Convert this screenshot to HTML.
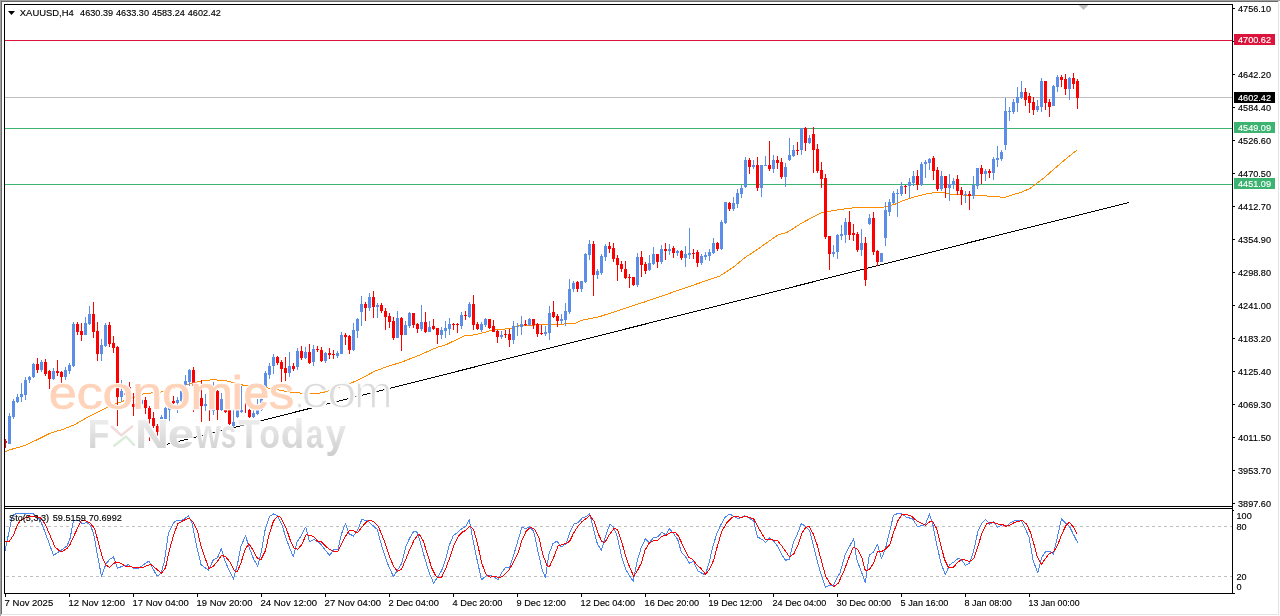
<!DOCTYPE html><html><head><meta charset="utf-8"><title>XAUUSD,H4</title><style>
html,body{margin:0;padding:0;background:#fff;}
body{width:1280px;height:616px;overflow:hidden;position:relative;font-family:"Liberation Sans",sans-serif;}
svg{position:absolute;left:0;top:0;}
text{font-family:"Liberation Sans",sans-serif;font-size:9.9px;fill:#000;}
.t{stroke:#000;stroke-width:.15px}.tw{fill:#fff;stroke:#fff;stroke-width:.15px}
.wm1,.wm2,.wm3{position:absolute;white-space:nowrap;font-family:"Liberation Sans",sans-serif;line-height:1;}
</style></head><body>
<svg width="1280" height="616" viewBox="0 0 1280 616">
<g shape-rendering="crispEdges">
<rect x="0" y="0" width="1280" height="616" fill="#fff"/>
<rect x="0" y="0" width="1280" height="1" fill="#a0a0a0"/><rect x="0" y="0" width="1" height="616" fill="#a0a0a0"/>
<rect x="1" y="1" width="1278" height="1" fill="#696969"/><rect x="1" y="1" width="1" height="614" fill="#696969"/>
<rect x="1278" y="1" width="1" height="614" fill="#e3e3e3"/><rect x="1" y="614" width="1278" height="1" fill="#e3e3e3"/>
<rect x="5" y="40" width="1227" height="1" fill="#dc143c"/>
<rect x="5" y="97" width="1227" height="1" fill="#c0c0c0"/>
<rect x="5" y="128" width="1227" height="1" fill="#3cb371"/>
<rect x="5" y="184" width="1227" height="1" fill="#3cb371"/>
</g>
<line x1="158" y1="446.6" x2="1129" y2="202.4" stroke="#000" stroke-width="1" shape-rendering="crispEdges"/>
<polyline points="5.0,451.7 10.0,449.7 25.0,445.5 37.5,439.5 50.0,433.2 62.5,429.5 75.0,424.5 87.5,417.2 100.0,411.0 107.5,407.2 117.5,403.1 125.0,400.5 142.5,394.1 153.0,392.7 161.0,392.1 170.0,389.5 185.0,385.0 194.0,382.5 203.0,380.9 213.0,379.7 227.0,380.9 232.0,382.4 240.0,384.2 244.0,385.5 268.0,388.0 288.0,391.8 300.0,393.0 310.0,393.9 322.0,392.8 328.0,390.9 347.0,384.9 360.0,379.2 375.0,371.1 390.0,365.5 400.0,362.8 420.0,354.9 437.0,347.4 445.0,345.2 465.0,335.5 475.0,334.9 490.0,330.8 495.0,329.9 510.0,328.6 520.0,325.5 548.0,324.6 575.0,323.6 581.0,320.5 600.0,316.5 646.0,301.5 720.0,275.9 733.8,266.8 746.0,256.8 755.0,251.1 770.0,240.5 778.0,234.9 787.0,232.4 800.0,224.2 812.0,217.4 822.0,212.4 830.0,211.1 843.0,209.2 852.0,208.0 860.0,207.8 882.0,207.6 890.0,205.5 895.0,204.2 905.0,199.9 915.0,196.8 925.0,194.2 933.0,192.8 945.0,192.8 950.0,194.0 970.0,195.5 987.0,195.9 990.0,196.8 1000.0,197.0 1002.0,198.0 1005.0,197.5 1012.0,194.9 1020.0,192.8 1030.0,188.5 1045.0,177.0 1057.0,166.5 1067.0,158.0 1076.0,150.9 1077.0,150.9" fill="none" stroke="#ff8c00" stroke-width="1" stroke-linejoin="round" shape-rendering="crispEdges"/>
<g shape-rendering="crispEdges">
<rect x="5" y="439" width="1" height="9" fill="#ff0000"/>
<rect x="4" y="441" width="3" height="2" fill="#ff0000"/>
<rect x="9" y="413" width="1" height="31" fill="#5b8ee9"/>
<rect x="8" y="416" width="3" height="28" fill="#5b8ee9"/>
<rect x="13" y="399" width="1" height="20" fill="#5b8ee9"/>
<rect x="12" y="401" width="3" height="16" fill="#5b8ee9"/>
<rect x="17" y="394" width="1" height="9" fill="#5b8ee9"/>
<rect x="16" y="397" width="3" height="5" fill="#5b8ee9"/>
<rect x="21" y="383" width="1" height="19" fill="#5b8ee9"/>
<rect x="20" y="394" width="3" height="3" fill="#5b8ee9"/>
<rect x="25" y="377" width="1" height="23" fill="#5b8ee9"/>
<rect x="24" y="380" width="3" height="15" fill="#5b8ee9"/>
<rect x="29" y="376" width="1" height="7" fill="#5b8ee9"/>
<rect x="28" y="377" width="3" height="3" fill="#5b8ee9"/>
<rect x="33" y="363" width="1" height="15" fill="#5b8ee9"/>
<rect x="32" y="364" width="3" height="13" fill="#5b8ee9"/>
<rect x="37" y="358" width="1" height="15" fill="#ff0000"/>
<rect x="36" y="364" width="3" height="6" fill="#ff0000"/>
<rect x="41" y="360" width="1" height="12" fill="#5b8ee9"/>
<rect x="40" y="362" width="3" height="8" fill="#5b8ee9"/>
<rect x="45" y="359" width="1" height="17" fill="#ff0000"/>
<rect x="44" y="362" width="3" height="12" fill="#ff0000"/>
<rect x="49" y="370" width="1" height="19" fill="#ff0000"/>
<rect x="48" y="371" width="3" height="8" fill="#ff0000"/>
<rect x="53" y="368" width="1" height="12" fill="#5b8ee9"/>
<rect x="52" y="371" width="3" height="8" fill="#5b8ee9"/>
<rect x="57" y="360" width="1" height="16" fill="#ff0000"/>
<rect x="56" y="371" width="3" height="2" fill="#ff0000"/>
<rect x="61" y="371" width="1" height="12" fill="#ff0000"/>
<rect x="60" y="372" width="3" height="5" fill="#ff0000"/>
<rect x="65" y="367" width="1" height="13" fill="#5b8ee9"/>
<rect x="64" y="370" width="3" height="7" fill="#5b8ee9"/>
<rect x="69" y="363" width="1" height="11" fill="#5b8ee9"/>
<rect x="68" y="365" width="3" height="6" fill="#5b8ee9"/>
<rect x="73" y="322" width="1" height="45" fill="#5b8ee9"/>
<rect x="72" y="324" width="3" height="42" fill="#5b8ee9"/>
<rect x="77" y="322" width="1" height="13" fill="#ff0000"/>
<rect x="76" y="324" width="3" height="8" fill="#ff0000"/>
<rect x="81" y="323" width="1" height="18" fill="#ff0000"/>
<rect x="80" y="331" width="3" height="4" fill="#ff0000"/>
<rect x="85" y="317" width="1" height="18" fill="#5b8ee9"/>
<rect x="84" y="323" width="3" height="12" fill="#5b8ee9"/>
<rect x="89" y="306" width="1" height="19" fill="#5b8ee9"/>
<rect x="88" y="314" width="3" height="10" fill="#5b8ee9"/>
<rect x="93" y="302" width="1" height="36" fill="#ff0000"/>
<rect x="92" y="314" width="3" height="18" fill="#ff0000"/>
<rect x="97" y="322" width="1" height="39" fill="#ff0000"/>
<rect x="96" y="331" width="3" height="23" fill="#ff0000"/>
<rect x="101" y="339" width="1" height="22" fill="#5b8ee9"/>
<rect x="100" y="345" width="3" height="9" fill="#5b8ee9"/>
<rect x="105" y="323" width="1" height="24" fill="#5b8ee9"/>
<rect x="104" y="325" width="3" height="21" fill="#5b8ee9"/>
<rect x="109" y="322" width="1" height="25" fill="#ff0000"/>
<rect x="108" y="325" width="3" height="19" fill="#ff0000"/>
<rect x="113" y="336" width="1" height="17" fill="#ff0000"/>
<rect x="112" y="343" width="3" height="5" fill="#ff0000"/>
<rect x="117" y="346" width="1" height="80" fill="#ff0000"/>
<rect x="116" y="347" width="3" height="50" fill="#ff0000"/>
<rect x="121" y="380" width="1" height="22" fill="#5b8ee9"/>
<rect x="120" y="391" width="3" height="6" fill="#5b8ee9"/>
<rect x="125" y="392" width="1" height="4" fill="#ff0000"/>
<rect x="124" y="393" width="3" height="2" fill="#ff0000"/>
<rect x="129" y="382" width="1" height="18" fill="#ff0000"/>
<rect x="128" y="387" width="3" height="8" fill="#ff0000"/>
<rect x="133" y="393" width="1" height="23" fill="#ff0000"/>
<rect x="132" y="404" width="3" height="3" fill="#ff0000"/>
<rect x="137" y="392" width="1" height="14" fill="#5b8ee9"/>
<rect x="136" y="394" width="3" height="8" fill="#5b8ee9"/>
<rect x="141" y="393" width="1" height="17" fill="#5b8ee9"/>
<rect x="140" y="400" width="3" height="4" fill="#5b8ee9"/>
<rect x="145" y="397" width="1" height="17" fill="#ff0000"/>
<rect x="144" y="400" width="3" height="8" fill="#ff0000"/>
<rect x="149" y="406" width="1" height="35" fill="#ff0000"/>
<rect x="148" y="408" width="3" height="11" fill="#ff0000"/>
<rect x="153" y="412" width="1" height="16" fill="#ff0000"/>
<rect x="152" y="418" width="3" height="8" fill="#ff0000"/>
<rect x="157" y="424" width="1" height="12" fill="#ff0000"/>
<rect x="156" y="426" width="3" height="6" fill="#ff0000"/>
<rect x="161" y="415" width="1" height="22" fill="#5b8ee9"/>
<rect x="160" y="417" width="3" height="2" fill="#5b8ee9"/>
<rect x="165" y="407" width="1" height="13" fill="#5b8ee9"/>
<rect x="164" y="408" width="3" height="11" fill="#5b8ee9"/>
<rect x="169" y="400" width="1" height="21" fill="#5b8ee9"/>
<rect x="168" y="403" width="3" height="7" fill="#5b8ee9"/>
<rect x="173" y="396" width="1" height="8" fill="#ff0000"/>
<rect x="172" y="401" width="3" height="2" fill="#ff0000"/>
<rect x="177" y="397" width="1" height="16" fill="#5b8ee9"/>
<rect x="176" y="400" width="3" height="3" fill="#5b8ee9"/>
<rect x="181" y="390" width="1" height="12" fill="#5b8ee9"/>
<rect x="180" y="391" width="3" height="10" fill="#5b8ee9"/>
<rect x="185" y="375" width="1" height="11" fill="#5b8ee9"/>
<rect x="184" y="381" width="3" height="4" fill="#5b8ee9"/>
<rect x="189" y="369" width="1" height="17" fill="#5b8ee9"/>
<rect x="188" y="370" width="3" height="12" fill="#5b8ee9"/>
<rect x="193" y="367" width="1" height="45" fill="#ff0000"/>
<rect x="192" y="370" width="3" height="16" fill="#ff0000"/>
<rect x="197" y="384" width="1" height="16" fill="#ff0000"/>
<rect x="196" y="386" width="3" height="12" fill="#ff0000"/>
<rect x="201" y="380" width="1" height="42" fill="#ff0000"/>
<rect x="200" y="398" width="3" height="8" fill="#ff0000"/>
<rect x="205" y="394" width="1" height="17" fill="#5b8ee9"/>
<rect x="204" y="404" width="3" height="2" fill="#5b8ee9"/>
<rect x="209" y="410" width="1" height="11" fill="#ff0000"/>
<rect x="213" y="382" width="1" height="33" fill="#5b8ee9"/>
<rect x="212" y="392" width="3" height="19" fill="#5b8ee9"/>
<rect x="217" y="390" width="1" height="30" fill="#ff0000"/>
<rect x="216" y="391" width="3" height="19" fill="#ff0000"/>
<rect x="221" y="393" width="1" height="18" fill="#5b8ee9"/>
<rect x="220" y="399" width="3" height="11" fill="#5b8ee9"/>
<rect x="225" y="409" width="1" height="4" fill="#ff0000"/>
<rect x="224" y="410" width="3" height="2" fill="#ff0000"/>
<rect x="229" y="409" width="1" height="16" fill="#ff0000"/>
<rect x="228" y="410" width="3" height="14" fill="#ff0000"/>
<rect x="233" y="410" width="1" height="17" fill="#5b8ee9"/>
<rect x="232" y="422" width="3" height="4" fill="#5b8ee9"/>
<rect x="237" y="409" width="1" height="9" fill="#5b8ee9"/>
<rect x="236" y="410" width="3" height="7" fill="#5b8ee9"/>
<rect x="241" y="386" width="1" height="27" fill="#5b8ee9"/>
<rect x="240" y="410" width="3" height="2" fill="#5b8ee9"/>
<rect x="245" y="402" width="1" height="11" fill="#ff0000"/>
<rect x="249" y="400" width="1" height="18" fill="#ff0000"/>
<rect x="248" y="410" width="3" height="7" fill="#ff0000"/>
<rect x="253" y="410" width="1" height="8" fill="#5b8ee9"/>
<rect x="252" y="413" width="3" height="4" fill="#5b8ee9"/>
<rect x="257" y="399" width="1" height="16" fill="#5b8ee9"/>
<rect x="256" y="410" width="3" height="4" fill="#5b8ee9"/>
<rect x="261" y="398" width="1" height="13" fill="#5b8ee9"/>
<rect x="260" y="399" width="3" height="11" fill="#5b8ee9"/>
<rect x="265" y="371" width="1" height="17" fill="#5b8ee9"/>
<rect x="264" y="373" width="3" height="14" fill="#5b8ee9"/>
<rect x="269" y="363" width="1" height="16" fill="#5b8ee9"/>
<rect x="268" y="366" width="3" height="9" fill="#5b8ee9"/>
<rect x="273" y="354" width="1" height="20" fill="#5b8ee9"/>
<rect x="272" y="357" width="3" height="9" fill="#5b8ee9"/>
<rect x="277" y="356" width="1" height="9" fill="#ff0000"/>
<rect x="276" y="357" width="3" height="6" fill="#ff0000"/>
<rect x="281" y="360" width="1" height="22" fill="#ff0000"/>
<rect x="280" y="362" width="3" height="7" fill="#ff0000"/>
<rect x="285" y="357" width="1" height="24" fill="#ff0000"/>
<rect x="284" y="368" width="3" height="5" fill="#ff0000"/>
<rect x="289" y="352" width="1" height="25" fill="#5b8ee9"/>
<rect x="288" y="366" width="3" height="7" fill="#5b8ee9"/>
<rect x="293" y="363" width="1" height="8" fill="#ff0000"/>
<rect x="292" y="366" width="3" height="3" fill="#ff0000"/>
<rect x="297" y="348" width="1" height="22" fill="#5b8ee9"/>
<rect x="296" y="351" width="3" height="16" fill="#5b8ee9"/>
<rect x="301" y="346" width="1" height="14" fill="#ff0000"/>
<rect x="300" y="351" width="3" height="7" fill="#ff0000"/>
<rect x="305" y="347" width="1" height="12" fill="#5b8ee9"/>
<rect x="304" y="352" width="3" height="6" fill="#5b8ee9"/>
<rect x="309" y="344" width="1" height="20" fill="#ff0000"/>
<rect x="308" y="352" width="3" height="11" fill="#ff0000"/>
<rect x="313" y="345" width="1" height="21" fill="#5b8ee9"/>
<rect x="312" y="349" width="3" height="13" fill="#5b8ee9"/>
<rect x="317" y="346" width="1" height="6" fill="#ff0000"/>
<rect x="316" y="349" width="3" height="1" fill="#ff0000"/>
<rect x="321" y="347" width="1" height="15" fill="#ff0000"/>
<rect x="320" y="350" width="3" height="11" fill="#ff0000"/>
<rect x="325" y="352" width="1" height="11" fill="#5b8ee9"/>
<rect x="324" y="353" width="3" height="8" fill="#5b8ee9"/>
<rect x="329" y="348" width="1" height="11" fill="#ff0000"/>
<rect x="328" y="353" width="3" height="2" fill="#ff0000"/>
<rect x="333" y="350" width="1" height="9" fill="#ff0000"/>
<rect x="332" y="354" width="3" height="1" fill="#ff0000"/>
<rect x="337" y="351" width="1" height="7" fill="#5b8ee9"/>
<rect x="336" y="353" width="3" height="3" fill="#5b8ee9"/>
<rect x="341" y="332" width="1" height="22" fill="#5b8ee9"/>
<rect x="340" y="335" width="3" height="19" fill="#5b8ee9"/>
<rect x="345" y="333" width="1" height="12" fill="#ff0000"/>
<rect x="344" y="335" width="3" height="2" fill="#ff0000"/>
<rect x="349" y="335" width="1" height="19" fill="#ff0000"/>
<rect x="348" y="336" width="3" height="14" fill="#ff0000"/>
<rect x="353" y="323" width="1" height="28" fill="#5b8ee9"/>
<rect x="352" y="330" width="3" height="20" fill="#5b8ee9"/>
<rect x="357" y="318" width="1" height="20" fill="#5b8ee9"/>
<rect x="356" y="319" width="3" height="12" fill="#5b8ee9"/>
<rect x="361" y="296" width="1" height="30" fill="#5b8ee9"/>
<rect x="360" y="304" width="3" height="8" fill="#5b8ee9"/>
<rect x="365" y="302" width="1" height="19" fill="#ff0000"/>
<rect x="364" y="304" width="3" height="4" fill="#ff0000"/>
<rect x="369" y="293" width="1" height="18" fill="#5b8ee9"/>
<rect x="368" y="297" width="3" height="11" fill="#5b8ee9"/>
<rect x="373" y="291" width="1" height="27" fill="#ff0000"/>
<rect x="372" y="297" width="3" height="10" fill="#ff0000"/>
<rect x="377" y="303" width="1" height="15" fill="#5b8ee9"/>
<rect x="376" y="305" width="3" height="2" fill="#5b8ee9"/>
<rect x="381" y="303" width="1" height="10" fill="#ff0000"/>
<rect x="380" y="305" width="3" height="6" fill="#ff0000"/>
<rect x="385" y="308" width="1" height="22" fill="#ff0000"/>
<rect x="384" y="311" width="3" height="6" fill="#ff0000"/>
<rect x="389" y="313" width="1" height="15" fill="#ff0000"/>
<rect x="388" y="316" width="3" height="6" fill="#ff0000"/>
<rect x="393" y="317" width="1" height="23" fill="#ff0000"/>
<rect x="392" y="321" width="3" height="17" fill="#ff0000"/>
<rect x="397" y="311" width="1" height="27" fill="#5b8ee9"/>
<rect x="396" y="318" width="3" height="20" fill="#5b8ee9"/>
<rect x="401" y="317" width="1" height="34" fill="#ff0000"/>
<rect x="400" y="318" width="3" height="17" fill="#ff0000"/>
<rect x="405" y="321" width="1" height="14" fill="#5b8ee9"/>
<rect x="404" y="325" width="3" height="10" fill="#5b8ee9"/>
<rect x="409" y="312" width="1" height="16" fill="#5b8ee9"/>
<rect x="408" y="313" width="3" height="13" fill="#5b8ee9"/>
<rect x="413" y="313" width="1" height="15" fill="#ff0000"/>
<rect x="412" y="313" width="3" height="12" fill="#ff0000"/>
<rect x="417" y="323" width="1" height="10" fill="#ff0000"/>
<rect x="416" y="324" width="3" height="5" fill="#ff0000"/>
<rect x="421" y="305" width="1" height="26" fill="#5b8ee9"/>
<rect x="420" y="322" width="3" height="7" fill="#5b8ee9"/>
<rect x="425" y="312" width="1" height="21" fill="#ff0000"/>
<rect x="424" y="322" width="3" height="10" fill="#ff0000"/>
<rect x="429" y="321" width="1" height="11" fill="#5b8ee9"/>
<rect x="428" y="327" width="3" height="5" fill="#5b8ee9"/>
<rect x="433" y="319" width="1" height="11" fill="#ff0000"/>
<rect x="432" y="326" width="3" height="3" fill="#ff0000"/>
<rect x="437" y="328" width="1" height="16" fill="#ff0000"/>
<rect x="436" y="328" width="3" height="7" fill="#ff0000"/>
<rect x="441" y="327" width="1" height="12" fill="#5b8ee9"/>
<rect x="440" y="330" width="3" height="5" fill="#5b8ee9"/>
<rect x="445" y="321" width="1" height="17" fill="#5b8ee9"/>
<rect x="444" y="328" width="3" height="3" fill="#5b8ee9"/>
<rect x="449" y="318" width="1" height="17" fill="#5b8ee9"/>
<rect x="448" y="324" width="3" height="5" fill="#5b8ee9"/>
<rect x="453" y="323" width="1" height="7" fill="#ff0000"/>
<rect x="452" y="324" width="3" height="1" fill="#ff0000"/>
<rect x="457" y="323" width="1" height="10" fill="#ff0000"/>
<rect x="456" y="324" width="3" height="1" fill="#ff0000"/>
<rect x="461" y="312" width="1" height="17" fill="#5b8ee9"/>
<rect x="460" y="315" width="3" height="11" fill="#5b8ee9"/>
<rect x="465" y="311" width="1" height="9" fill="#ff0000"/>
<rect x="464" y="315" width="3" height="1" fill="#ff0000"/>
<rect x="469" y="302" width="1" height="16" fill="#5b8ee9"/>
<rect x="468" y="304" width="3" height="13" fill="#5b8ee9"/>
<rect x="473" y="295" width="1" height="35" fill="#ff0000"/>
<rect x="472" y="304" width="3" height="21" fill="#ff0000"/>
<rect x="477" y="322" width="1" height="8" fill="#ff0000"/>
<rect x="476" y="324" width="3" height="5" fill="#ff0000"/>
<rect x="481" y="322" width="1" height="10" fill="#5b8ee9"/>
<rect x="480" y="324" width="3" height="6" fill="#5b8ee9"/>
<rect x="485" y="318" width="1" height="9" fill="#5b8ee9"/>
<rect x="484" y="319" width="3" height="6" fill="#5b8ee9"/>
<rect x="489" y="319" width="1" height="10" fill="#ff0000"/>
<rect x="488" y="319" width="3" height="9" fill="#ff0000"/>
<rect x="493" y="320" width="1" height="12" fill="#ff0000"/>
<rect x="492" y="326" width="3" height="6" fill="#ff0000"/>
<rect x="497" y="330" width="1" height="13" fill="#ff0000"/>
<rect x="496" y="331" width="3" height="6" fill="#ff0000"/>
<rect x="501" y="331" width="1" height="8" fill="#5b8ee9"/>
<rect x="500" y="335" width="3" height="2" fill="#5b8ee9"/>
<rect x="505" y="330" width="1" height="8" fill="#ff0000"/>
<rect x="504" y="334" width="3" height="1" fill="#ff0000"/>
<rect x="509" y="329" width="1" height="18" fill="#ff0000"/>
<rect x="508" y="334" width="3" height="6" fill="#ff0000"/>
<rect x="513" y="321" width="1" height="23" fill="#5b8ee9"/>
<rect x="512" y="326" width="3" height="14" fill="#5b8ee9"/>
<rect x="517" y="323" width="1" height="13" fill="#5b8ee9"/>
<rect x="516" y="326" width="3" height="1" fill="#5b8ee9"/>
<rect x="521" y="316" width="1" height="19" fill="#5b8ee9"/>
<rect x="520" y="324" width="3" height="3" fill="#5b8ee9"/>
<rect x="525" y="320" width="1" height="6" fill="#ff0000"/>
<rect x="524" y="324" width="3" height="1" fill="#ff0000"/>
<rect x="529" y="318" width="1" height="8" fill="#5b8ee9"/>
<rect x="528" y="319" width="3" height="6" fill="#5b8ee9"/>
<rect x="533" y="319" width="1" height="10" fill="#ff0000"/>
<rect x="532" y="319" width="3" height="6" fill="#ff0000"/>
<rect x="537" y="323" width="1" height="14" fill="#ff0000"/>
<rect x="536" y="324" width="3" height="10" fill="#ff0000"/>
<rect x="541" y="325" width="1" height="10" fill="#ff0000"/>
<rect x="540" y="333" width="3" height="1" fill="#ff0000"/>
<rect x="545" y="326" width="1" height="10" fill="#5b8ee9"/>
<rect x="544" y="332" width="3" height="2" fill="#5b8ee9"/>
<rect x="549" y="306" width="1" height="34" fill="#5b8ee9"/>
<rect x="548" y="313" width="3" height="20" fill="#5b8ee9"/>
<rect x="553" y="301" width="1" height="17" fill="#ff0000"/>
<rect x="552" y="312" width="3" height="5" fill="#ff0000"/>
<rect x="557" y="314" width="1" height="13" fill="#ff0000"/>
<rect x="556" y="316" width="3" height="5" fill="#ff0000"/>
<rect x="561" y="314" width="1" height="10" fill="#5b8ee9"/>
<rect x="560" y="319" width="3" height="2" fill="#5b8ee9"/>
<rect x="565" y="303" width="1" height="23" fill="#5b8ee9"/>
<rect x="564" y="311" width="3" height="9" fill="#5b8ee9"/>
<rect x="569" y="279" width="1" height="35" fill="#5b8ee9"/>
<rect x="568" y="289" width="3" height="23" fill="#5b8ee9"/>
<rect x="573" y="281" width="1" height="11" fill="#5b8ee9"/>
<rect x="572" y="283" width="3" height="6" fill="#5b8ee9"/>
<rect x="577" y="281" width="1" height="11" fill="#ff0000"/>
<rect x="576" y="282" width="3" height="7" fill="#ff0000"/>
<rect x="581" y="281" width="1" height="11" fill="#5b8ee9"/>
<rect x="580" y="281" width="3" height="8" fill="#5b8ee9"/>
<rect x="585" y="253" width="1" height="30" fill="#5b8ee9"/>
<rect x="584" y="254" width="3" height="28" fill="#5b8ee9"/>
<rect x="589" y="240" width="1" height="20" fill="#5b8ee9"/>
<rect x="588" y="244" width="3" height="11" fill="#5b8ee9"/>
<rect x="593" y="241" width="1" height="55" fill="#ff0000"/>
<rect x="592" y="244" width="3" height="31" fill="#ff0000"/>
<rect x="597" y="269" width="1" height="10" fill="#5b8ee9"/>
<rect x="596" y="271" width="3" height="4" fill="#5b8ee9"/>
<rect x="601" y="254" width="1" height="21" fill="#5b8ee9"/>
<rect x="600" y="256" width="3" height="17" fill="#5b8ee9"/>
<rect x="605" y="244" width="1" height="17" fill="#5b8ee9"/>
<rect x="604" y="246" width="3" height="11" fill="#5b8ee9"/>
<rect x="609" y="242" width="1" height="11" fill="#ff0000"/>
<rect x="608" y="246" width="3" height="3" fill="#ff0000"/>
<rect x="613" y="243" width="1" height="19" fill="#ff0000"/>
<rect x="612" y="248" width="3" height="11" fill="#ff0000"/>
<rect x="617" y="255" width="1" height="26" fill="#ff0000"/>
<rect x="616" y="258" width="3" height="7" fill="#ff0000"/>
<rect x="621" y="261" width="1" height="11" fill="#ff0000"/>
<rect x="620" y="264" width="3" height="5" fill="#ff0000"/>
<rect x="625" y="261" width="1" height="18" fill="#ff0000"/>
<rect x="624" y="269" width="3" height="9" fill="#ff0000"/>
<rect x="629" y="274" width="1" height="14" fill="#ff0000"/>
<rect x="628" y="277" width="3" height="1" fill="#ff0000"/>
<rect x="633" y="277" width="1" height="9" fill="#ff0000"/>
<rect x="632" y="277" width="3" height="8" fill="#ff0000"/>
<rect x="637" y="253" width="1" height="34" fill="#5b8ee9"/>
<rect x="636" y="257" width="3" height="28" fill="#5b8ee9"/>
<rect x="641" y="251" width="1" height="26" fill="#ff0000"/>
<rect x="640" y="257" width="3" height="8" fill="#ff0000"/>
<rect x="645" y="262" width="1" height="12" fill="#ff0000"/>
<rect x="644" y="264" width="3" height="7" fill="#ff0000"/>
<rect x="649" y="255" width="1" height="16" fill="#5b8ee9"/>
<rect x="648" y="263" width="3" height="7" fill="#5b8ee9"/>
<rect x="653" y="247" width="1" height="18" fill="#5b8ee9"/>
<rect x="652" y="254" width="3" height="10" fill="#5b8ee9"/>
<rect x="657" y="254" width="1" height="14" fill="#ff0000"/>
<rect x="656" y="254" width="3" height="8" fill="#ff0000"/>
<rect x="661" y="245" width="1" height="19" fill="#5b8ee9"/>
<rect x="660" y="249" width="3" height="13" fill="#5b8ee9"/>
<rect x="665" y="243" width="1" height="17" fill="#ff0000"/>
<rect x="664" y="249" width="3" height="2" fill="#ff0000"/>
<rect x="669" y="244" width="1" height="11" fill="#5b8ee9"/>
<rect x="668" y="249" width="3" height="2" fill="#5b8ee9"/>
<rect x="673" y="246" width="1" height="12" fill="#ff0000"/>
<rect x="672" y="248" width="3" height="5" fill="#ff0000"/>
<rect x="677" y="250" width="1" height="6" fill="#5b8ee9"/>
<rect x="676" y="251" width="3" height="2" fill="#5b8ee9"/>
<rect x="681" y="250" width="1" height="10" fill="#ff0000"/>
<rect x="680" y="251" width="3" height="7" fill="#ff0000"/>
<rect x="685" y="246" width="1" height="21" fill="#5b8ee9"/>
<rect x="684" y="254" width="3" height="4" fill="#5b8ee9"/>
<rect x="689" y="228" width="1" height="31" fill="#5b8ee9"/>
<rect x="688" y="253" width="3" height="2" fill="#5b8ee9"/>
<rect x="693" y="249" width="1" height="10" fill="#ff0000"/>
<rect x="692" y="253" width="3" height="1" fill="#ff0000"/>
<rect x="697" y="250" width="1" height="17" fill="#ff0000"/>
<rect x="696" y="252" width="3" height="11" fill="#ff0000"/>
<rect x="701" y="254" width="1" height="11" fill="#5b8ee9"/>
<rect x="700" y="256" width="3" height="7" fill="#5b8ee9"/>
<rect x="705" y="252" width="1" height="8" fill="#5b8ee9"/>
<rect x="704" y="255" width="3" height="2" fill="#5b8ee9"/>
<rect x="709" y="249" width="1" height="12" fill="#5b8ee9"/>
<rect x="708" y="252" width="3" height="4" fill="#5b8ee9"/>
<rect x="713" y="238" width="1" height="16" fill="#5b8ee9"/>
<rect x="712" y="243" width="3" height="10" fill="#5b8ee9"/>
<rect x="717" y="242" width="1" height="9" fill="#ff0000"/>
<rect x="716" y="243" width="3" height="6" fill="#ff0000"/>
<rect x="721" y="220" width="1" height="30" fill="#5b8ee9"/>
<rect x="720" y="222" width="3" height="27" fill="#5b8ee9"/>
<rect x="725" y="202" width="1" height="22" fill="#5b8ee9"/>
<rect x="724" y="202" width="3" height="21" fill="#5b8ee9"/>
<rect x="729" y="202" width="1" height="9" fill="#ff0000"/>
<rect x="728" y="203" width="3" height="6" fill="#ff0000"/>
<rect x="733" y="197" width="1" height="14" fill="#5b8ee9"/>
<rect x="732" y="203" width="3" height="6" fill="#5b8ee9"/>
<rect x="737" y="189" width="1" height="19" fill="#5b8ee9"/>
<rect x="736" y="193" width="3" height="11" fill="#5b8ee9"/>
<rect x="741" y="185" width="1" height="13" fill="#5b8ee9"/>
<rect x="740" y="188" width="3" height="6" fill="#5b8ee9"/>
<rect x="745" y="157" width="1" height="31" fill="#5b8ee9"/>
<rect x="744" y="160" width="3" height="27" fill="#5b8ee9"/>
<rect x="749" y="158" width="1" height="16" fill="#ff0000"/>
<rect x="748" y="160" width="3" height="7" fill="#ff0000"/>
<rect x="753" y="160" width="1" height="9" fill="#5b8ee9"/>
<rect x="752" y="165" width="3" height="2" fill="#5b8ee9"/>
<rect x="757" y="157" width="1" height="34" fill="#ff0000"/>
<rect x="756" y="165" width="3" height="23" fill="#ff0000"/>
<rect x="761" y="165" width="1" height="32" fill="#5b8ee9"/>
<rect x="760" y="165" width="3" height="23" fill="#5b8ee9"/>
<rect x="765" y="156" width="1" height="10" fill="#5b8ee9"/>
<rect x="764" y="165" width="3" height="1" fill="#5b8ee9"/>
<rect x="769" y="141" width="1" height="30" fill="#ff0000"/>
<rect x="768" y="165" width="3" height="4" fill="#ff0000"/>
<rect x="773" y="155" width="1" height="18" fill="#5b8ee9"/>
<rect x="772" y="160" width="3" height="9" fill="#5b8ee9"/>
<rect x="777" y="156" width="1" height="13" fill="#ff0000"/>
<rect x="776" y="160" width="3" height="3" fill="#ff0000"/>
<rect x="781" y="158" width="1" height="21" fill="#ff0000"/>
<rect x="780" y="162" width="3" height="15" fill="#ff0000"/>
<rect x="785" y="163" width="1" height="24" fill="#5b8ee9"/>
<rect x="784" y="167" width="3" height="10" fill="#5b8ee9"/>
<rect x="789" y="138" width="1" height="23" fill="#5b8ee9"/>
<rect x="788" y="155" width="3" height="5" fill="#5b8ee9"/>
<rect x="793" y="145" width="1" height="12" fill="#5b8ee9"/>
<rect x="792" y="150" width="3" height="6" fill="#5b8ee9"/>
<rect x="797" y="142" width="1" height="13" fill="#ff0000"/>
<rect x="796" y="150" width="3" height="1" fill="#ff0000"/>
<rect x="801" y="128" width="1" height="27" fill="#5b8ee9"/>
<rect x="800" y="128" width="3" height="22" fill="#5b8ee9"/>
<rect x="805" y="127" width="1" height="24" fill="#ff0000"/>
<rect x="804" y="128" width="3" height="15" fill="#ff0000"/>
<rect x="809" y="135" width="1" height="9" fill="#5b8ee9"/>
<rect x="808" y="138" width="3" height="5" fill="#5b8ee9"/>
<rect x="813" y="127" width="1" height="46" fill="#ff0000"/>
<rect x="812" y="134" width="3" height="16" fill="#ff0000"/>
<rect x="817" y="144" width="1" height="29" fill="#ff0000"/>
<rect x="816" y="149" width="3" height="22" fill="#ff0000"/>
<rect x="821" y="162" width="1" height="26" fill="#ff0000"/>
<rect x="820" y="170" width="3" height="9" fill="#ff0000"/>
<rect x="825" y="174" width="1" height="65" fill="#ff0000"/>
<rect x="824" y="178" width="3" height="59" fill="#ff0000"/>
<rect x="829" y="236" width="1" height="34" fill="#ff0000"/>
<rect x="828" y="236" width="3" height="18" fill="#ff0000"/>
<rect x="833" y="245" width="1" height="12" fill="#5b8ee9"/>
<rect x="832" y="252" width="3" height="2" fill="#5b8ee9"/>
<rect x="837" y="234" width="1" height="25" fill="#5b8ee9"/>
<rect x="836" y="235" width="3" height="17" fill="#5b8ee9"/>
<rect x="841" y="225" width="1" height="15" fill="#5b8ee9"/>
<rect x="840" y="234" width="3" height="2" fill="#5b8ee9"/>
<rect x="845" y="218" width="1" height="25" fill="#5b8ee9"/>
<rect x="844" y="222" width="3" height="13" fill="#5b8ee9"/>
<rect x="849" y="211" width="1" height="29" fill="#ff0000"/>
<rect x="848" y="222" width="3" height="13" fill="#ff0000"/>
<rect x="853" y="224" width="1" height="17" fill="#ff0000"/>
<rect x="852" y="233" width="3" height="2" fill="#ff0000"/>
<rect x="857" y="232" width="1" height="20" fill="#ff0000"/>
<rect x="856" y="234" width="3" height="16" fill="#ff0000"/>
<rect x="861" y="229" width="1" height="27" fill="#5b8ee9"/>
<rect x="860" y="243" width="3" height="7" fill="#5b8ee9"/>
<rect x="865" y="237" width="1" height="49" fill="#ff0000"/>
<rect x="864" y="243" width="3" height="37" fill="#ff0000"/>
<rect x="869" y="214" width="1" height="11" fill="#5b8ee9"/>
<rect x="868" y="218" width="3" height="6" fill="#5b8ee9"/>
<rect x="873" y="212" width="1" height="43" fill="#ff0000"/>
<rect x="872" y="218" width="3" height="34" fill="#ff0000"/>
<rect x="877" y="250" width="1" height="16" fill="#ff0000"/>
<rect x="876" y="251" width="3" height="11" fill="#ff0000"/>
<rect x="881" y="253" width="1" height="9" fill="#5b8ee9"/>
<rect x="880" y="253" width="3" height="9" fill="#5b8ee9"/>
<rect x="885" y="202" width="1" height="44" fill="#5b8ee9"/>
<rect x="884" y="210" width="3" height="28" fill="#5b8ee9"/>
<rect x="889" y="199" width="1" height="17" fill="#5b8ee9"/>
<rect x="888" y="202" width="3" height="10" fill="#5b8ee9"/>
<rect x="893" y="191" width="1" height="13" fill="#5b8ee9"/>
<rect x="892" y="193" width="3" height="10" fill="#5b8ee9"/>
<rect x="897" y="189" width="1" height="28" fill="#5b8ee9"/>
<rect x="896" y="193" width="3" height="1" fill="#5b8ee9"/>
<rect x="901" y="182" width="1" height="14" fill="#5b8ee9"/>
<rect x="900" y="186" width="3" height="8" fill="#5b8ee9"/>
<rect x="905" y="185" width="1" height="9" fill="#ff0000"/>
<rect x="904" y="186" width="3" height="1" fill="#ff0000"/>
<rect x="909" y="178" width="1" height="20" fill="#5b8ee9"/>
<rect x="908" y="182" width="3" height="4" fill="#5b8ee9"/>
<rect x="913" y="171" width="1" height="15" fill="#5b8ee9"/>
<rect x="912" y="176" width="3" height="7" fill="#5b8ee9"/>
<rect x="917" y="170" width="1" height="20" fill="#ff0000"/>
<rect x="916" y="176" width="3" height="9" fill="#ff0000"/>
<rect x="921" y="162" width="1" height="24" fill="#5b8ee9"/>
<rect x="920" y="164" width="3" height="21" fill="#5b8ee9"/>
<rect x="925" y="160" width="1" height="18" fill="#5b8ee9"/>
<rect x="924" y="162" width="3" height="2" fill="#5b8ee9"/>
<rect x="929" y="158" width="1" height="12" fill="#5b8ee9"/>
<rect x="928" y="159" width="3" height="4" fill="#5b8ee9"/>
<rect x="933" y="156" width="1" height="24" fill="#ff0000"/>
<rect x="932" y="158" width="3" height="13" fill="#ff0000"/>
<rect x="937" y="167" width="1" height="24" fill="#ff0000"/>
<rect x="936" y="170" width="3" height="19" fill="#ff0000"/>
<rect x="941" y="171" width="1" height="20" fill="#5b8ee9"/>
<rect x="940" y="176" width="3" height="13" fill="#5b8ee9"/>
<rect x="945" y="176" width="1" height="22" fill="#ff0000"/>
<rect x="944" y="176" width="3" height="12" fill="#ff0000"/>
<rect x="949" y="174" width="1" height="27" fill="#5b8ee9"/>
<rect x="948" y="184" width="3" height="4" fill="#5b8ee9"/>
<rect x="953" y="178" width="1" height="11" fill="#5b8ee9"/>
<rect x="952" y="181" width="3" height="4" fill="#5b8ee9"/>
<rect x="957" y="175" width="1" height="20" fill="#ff0000"/>
<rect x="956" y="179" width="3" height="12" fill="#ff0000"/>
<rect x="961" y="187" width="1" height="18" fill="#ff0000"/>
<rect x="960" y="190" width="3" height="5" fill="#ff0000"/>
<rect x="965" y="191" width="1" height="12" fill="#5b8ee9"/>
<rect x="964" y="194" width="3" height="1" fill="#5b8ee9"/>
<rect x="969" y="191" width="1" height="19" fill="#ff0000"/>
<rect x="968" y="194" width="3" height="2" fill="#ff0000"/>
<rect x="973" y="176" width="1" height="23" fill="#5b8ee9"/>
<rect x="972" y="185" width="3" height="11" fill="#5b8ee9"/>
<rect x="977" y="168" width="1" height="21" fill="#5b8ee9"/>
<rect x="976" y="168" width="3" height="18" fill="#5b8ee9"/>
<rect x="981" y="165" width="1" height="19" fill="#ff0000"/>
<rect x="980" y="168" width="3" height="6" fill="#ff0000"/>
<rect x="985" y="169" width="1" height="12" fill="#5b8ee9"/>
<rect x="984" y="171" width="3" height="3" fill="#5b8ee9"/>
<rect x="989" y="169" width="1" height="9" fill="#ff0000"/>
<rect x="988" y="171" width="3" height="2" fill="#ff0000"/>
<rect x="993" y="157" width="1" height="23" fill="#5b8ee9"/>
<rect x="992" y="159" width="3" height="14" fill="#5b8ee9"/>
<rect x="997" y="146" width="1" height="21" fill="#5b8ee9"/>
<rect x="996" y="158" width="3" height="2" fill="#5b8ee9"/>
<rect x="1001" y="150" width="1" height="11" fill="#5b8ee9"/>
<rect x="1000" y="152" width="3" height="7" fill="#5b8ee9"/>
<rect x="1005" y="98" width="1" height="52" fill="#5b8ee9"/>
<rect x="1004" y="111" width="3" height="34" fill="#5b8ee9"/>
<rect x="1009" y="107" width="1" height="14" fill="#5b8ee9"/>
<rect x="1008" y="111" width="3" height="1" fill="#5b8ee9"/>
<rect x="1013" y="99" width="1" height="15" fill="#5b8ee9"/>
<rect x="1012" y="102" width="3" height="10" fill="#5b8ee9"/>
<rect x="1017" y="87" width="1" height="25" fill="#5b8ee9"/>
<rect x="1016" y="97" width="3" height="6" fill="#5b8ee9"/>
<rect x="1021" y="81" width="1" height="18" fill="#5b8ee9"/>
<rect x="1020" y="92" width="3" height="6" fill="#5b8ee9"/>
<rect x="1025" y="88" width="1" height="18" fill="#ff0000"/>
<rect x="1024" y="92" width="3" height="8" fill="#ff0000"/>
<rect x="1029" y="93" width="1" height="20" fill="#ff0000"/>
<rect x="1028" y="96" width="3" height="7" fill="#ff0000"/>
<rect x="1033" y="97" width="1" height="18" fill="#ff0000"/>
<rect x="1032" y="102" width="3" height="8" fill="#ff0000"/>
<rect x="1037" y="100" width="1" height="12" fill="#5b8ee9"/>
<rect x="1036" y="106" width="3" height="4" fill="#5b8ee9"/>
<rect x="1041" y="78" width="1" height="34" fill="#5b8ee9"/>
<rect x="1040" y="81" width="3" height="26" fill="#5b8ee9"/>
<rect x="1045" y="81" width="1" height="29" fill="#ff0000"/>
<rect x="1044" y="81" width="3" height="22" fill="#ff0000"/>
<rect x="1049" y="99" width="1" height="18" fill="#ff0000"/>
<rect x="1048" y="102" width="3" height="5" fill="#ff0000"/>
<rect x="1053" y="85" width="1" height="21" fill="#5b8ee9"/>
<rect x="1052" y="86" width="3" height="20" fill="#5b8ee9"/>
<rect x="1057" y="75" width="1" height="17" fill="#5b8ee9"/>
<rect x="1056" y="77" width="3" height="10" fill="#5b8ee9"/>
<rect x="1061" y="75" width="1" height="12" fill="#ff0000"/>
<rect x="1060" y="77" width="3" height="3" fill="#ff0000"/>
<rect x="1065" y="74" width="1" height="21" fill="#ff0000"/>
<rect x="1064" y="79" width="3" height="10" fill="#ff0000"/>
<rect x="1069" y="77" width="1" height="23" fill="#5b8ee9"/>
<rect x="1068" y="78" width="3" height="11" fill="#5b8ee9"/>
<rect x="1073" y="73" width="1" height="16" fill="#ff0000"/>
<rect x="1072" y="78" width="3" height="6" fill="#ff0000"/>
<rect x="1077" y="79" width="1" height="30" fill="#ff0000"/>
<rect x="1076" y="81" width="3" height="17" fill="#ff0000"/>
</g>
<defs><linearGradient id="gw" x1="0" y1="-30" x2="0" y2="8" gradientUnits="userSpaceOnUse"><stop offset="0" stop-color="#eeeeee"/><stop offset="1" stop-color="#cdcdcd"/></linearGradient>
<filter id="bl" x="-5%" y="-20%" width="110%" height="140%"><feGaussianBlur stdDeviation="0.7"/></filter>
<filter id="bl2" x="-5%" y="-20%" width="110%" height="140%"><feGaussianBlur stdDeviation="0.6"/></filter></defs>
<g filter="url(#bl)">
<text transform="translate(48.70,408.6) scale(1.073,1)" style="font-size:47px;fill:#fff;stroke:#fff;stroke-width:2.64px">e</text>
<text transform="translate(76.47,408.6) scale(1.127,1)" style="font-size:47px;fill:#fff;stroke:#fff;stroke-width:2.40px">c</text>
<text transform="translate(102.11,408.6) scale(1.215,1)" style="font-size:47px;fill:#fff;stroke:#fff;stroke-width:2.06px">o</text>
<text transform="translate(132.11,408.6) scale(1.172,1)" style="font-size:47px;fill:#fff;stroke:#fff;stroke-width:2.22px">n</text>
<text transform="translate(161.90,408.6) scale(1.096,1)" style="font-size:47px;fill:#fff;stroke:#fff;stroke-width:2.54px">o</text>
<text transform="translate(190.55,408.6) scale(1.087,1)" style="font-size:47px;fill:#fff;stroke:#fff;stroke-width:2.58px">m</text>
<text transform="translate(232.00,408.6) scale(1.000,1)" style="font-size:47px;fill:#fff;stroke:#fff;stroke-width:3.00px">i</text>
<text transform="translate(243.84,408.6) scale(0.966,1)" style="font-size:47px;fill:#fff;stroke:#fff;stroke-width:3.19px">e</text>
<text transform="translate(268.63,408.6) scale(1.089,1)" style="font-size:47px;fill:#fff;stroke:#fff;stroke-width:2.57px">s</text>
<text transform="translate(294.23,408.3) scale(0.811,1)" style="font-size:47px;fill:#fff;stroke:#fff;stroke-width:1.6px">.</text>
<text transform="translate(300.88,408.3) scale(1.176,1)" style="font-size:47px;fill:#fff;stroke:#fff;stroke-width:1.6px">c</text>
<text transform="translate(326.99,408.3) scale(1.135,1)" style="font-size:47px;fill:#fff;stroke:#fff;stroke-width:1.6px">o</text>
<text transform="translate(353.90,408.3) scale(0.987,1)" style="font-size:47px;fill:#fff;stroke:#fff;stroke-width:1.6px">m</text>
<text transform="translate(87.80,448.3) scale(0.867,1)" style="font-size:41px;font-weight:bold;fill:#fff;stroke:#fff;stroke-width:2.0px">F</text>
<text transform="translate(135.06,448.3) scale(1.146,1)" style="font-size:41px;font-weight:bold;fill:#fff;stroke:#fff;stroke-width:2.0px">N</text>
<text transform="translate(167.68,448.3) scale(1.158,1)" style="font-size:41px;font-weight:bold;fill:#fff;stroke:#fff;stroke-width:2.0px">e</text>
<text transform="translate(195.40,448.3) scale(0.794,1)" style="font-size:41px;font-weight:bold;fill:#fff;stroke:#fff;stroke-width:2.0px">w</text>
<text transform="translate(220.63,448.3) scale(0.684,1)" style="font-size:41px;font-weight:bold;fill:#fff;stroke:#fff;stroke-width:2.0px">s</text>
<text transform="translate(238.00,448.3) scale(0.880,1)" style="font-size:41px;font-weight:bold;fill:#fff;stroke:#fff;stroke-width:2.0px">T</text>
<text transform="translate(259.33,448.3) scale(0.833,1)" style="font-size:41px;font-weight:bold;fill:#fff;stroke:#fff;stroke-width:2.0px">o</text>
<text transform="translate(280.82,448.3) scale(0.940,1)" style="font-size:41px;font-weight:bold;fill:#fff;stroke:#fff;stroke-width:2.0px">d</text>
<text transform="translate(306.05,448.3) scale(0.755,1)" style="font-size:41px;font-weight:bold;fill:#fff;stroke:#fff;stroke-width:2.0px">a</text>
<text transform="translate(325.60,448.3) scale(0.895,1)" style="font-size:41px;font-weight:bold;fill:#fff;stroke:#fff;stroke-width:2.0px">y</text>
<text transform="translate(48.70,408.6) scale(1.073,1)" style="font-size:47px;fill:#ffd3b9;stroke:#ffd3b9;stroke-width:0.64px">e</text>
<text transform="translate(76.47,408.6) scale(1.127,1)" style="font-size:47px;fill:#ffd3b9;stroke:#ffd3b9;stroke-width:0.40px">c</text>
<text transform="translate(102.11,408.6) scale(1.215,1)" style="font-size:47px;fill:#ffd3b9;stroke:#ffd3b9;stroke-width:0.06px">o</text>
<text transform="translate(132.11,408.6) scale(1.172,1)" style="font-size:47px;fill:#ffd3b9;stroke:#ffd3b9;stroke-width:0.22px">n</text>
<text transform="translate(161.90,408.6) scale(1.096,1)" style="font-size:47px;fill:#ffd3b9;stroke:#ffd3b9;stroke-width:0.54px">o</text>
<text transform="translate(190.55,408.6) scale(1.087,1)" style="font-size:47px;fill:#ffd3b9;stroke:#ffd3b9;stroke-width:0.58px">m</text>
<text transform="translate(232.00,408.6) scale(1.000,1)" style="font-size:47px;fill:#ffd3b9;stroke:#ffd3b9;stroke-width:1.00px">i</text>
<text transform="translate(243.84,408.6) scale(0.966,1)" style="font-size:47px;fill:#ffd3b9;stroke:#ffd3b9;stroke-width:1.19px">e</text>
<text transform="translate(268.63,408.6) scale(1.089,1)" style="font-size:47px;fill:#ffd3b9;stroke:#ffd3b9;stroke-width:0.57px">s</text>
<text transform="translate(294.23,408.3) scale(0.811,1)" style="font-size:47px;fill:#dcdcdc;stroke:#fff;stroke-width:1.3px">.</text>
<text transform="translate(300.88,408.3) scale(1.176,1)" style="font-size:47px;fill:#dcdcdc;stroke:#fff;stroke-width:1.3px">c</text>
<text transform="translate(326.99,408.3) scale(1.135,1)" style="font-size:47px;fill:#dcdcdc;stroke:#fff;stroke-width:1.3px">o</text>
<text transform="translate(353.90,408.3) scale(0.987,1)" style="font-size:47px;fill:#dcdcdc;stroke:#fff;stroke-width:1.3px">m</text>
<text transform="translate(87.80,448.3) scale(0.867,1)" style="font-size:41px;font-weight:bold;fill:url(#gw)">F</text>
<text transform="translate(135.06,448.3) scale(1.146,1)" style="font-size:41px;font-weight:bold;fill:url(#gw)">N</text>
<text transform="translate(167.68,448.3) scale(1.158,1)" style="font-size:41px;font-weight:bold;fill:url(#gw)">e</text>
<text transform="translate(195.40,448.3) scale(0.794,1)" style="font-size:41px;font-weight:bold;fill:url(#gw)">w</text>
<text transform="translate(220.63,448.3) scale(0.684,1)" style="font-size:41px;font-weight:bold;fill:url(#gw)">s</text>
<text transform="translate(238.00,448.3) scale(0.880,1)" style="font-size:41px;font-weight:bold;fill:url(#gw)">T</text>
<text transform="translate(259.33,448.3) scale(0.833,1)" style="font-size:41px;font-weight:bold;fill:url(#gw)">o</text>
<text transform="translate(280.82,448.3) scale(0.940,1)" style="font-size:41px;font-weight:bold;fill:url(#gw)">d</text>
<text transform="translate(306.05,448.3) scale(0.755,1)" style="font-size:41px;font-weight:bold;fill:url(#gw)">a</text>
<text transform="translate(325.60,448.3) scale(0.895,1)" style="font-size:41px;font-weight:bold;fill:url(#gw)">y</text>
<polyline points="111.8,426.8 121.3,435.4 132,426.6" fill="none" stroke="#f2dada" stroke-width="2.5" stroke-linecap="round" stroke-linejoin="round"/>
<polyline points="114.2,445.8 126,436.5 134,444.8" fill="none" stroke="#daecda" stroke-width="2.5" stroke-linecap="round" stroke-linejoin="round"/>
</g>
<g shape-rendering="crispEdges" fill="#000">
<rect x="4" y="4" width="1229" height="1"/>
<rect x="4" y="4" width="1" height="590"/>
<rect x="1232" y="4" width="1" height="590"/>
<rect x="4" y="506" width="1229" height="1"/>
<rect x="4" y="508" width="1229" height="1"/>
<rect x="4" y="593" width="1229" height="1"/>
<rect x="5" y="507" width="1227" height="1" fill="#fff"/>
<rect x="1233" y="503" width="2" height="1"/>
<rect x="1233" y="470" width="2" height="1"/>
<rect x="1233" y="437" width="2" height="1"/>
<rect x="1233" y="404" width="2" height="1"/>
<rect x="1233" y="371" width="2" height="1"/>
<rect x="1233" y="338" width="2" height="1"/>
<rect x="1233" y="305" width="2" height="1"/>
<rect x="1233" y="272" width="2" height="1"/>
<rect x="1233" y="239" width="2" height="1"/>
<rect x="1233" y="206" width="2" height="1"/>
<rect x="1233" y="173" width="2" height="1"/>
<rect x="1233" y="140" width="2" height="1"/>
<rect x="1233" y="107" width="2" height="1"/>
<rect x="1233" y="74" width="2" height="1"/>
<rect x="1233" y="41" width="2" height="1"/>
<rect x="1233" y="8" width="2" height="1"/>
<rect x="1233" y="510" width="1" height="1"/><rect x="1233" y="593" width="2" height="1"/>
<rect x="5" y="594" width="1" height="3"/>
<rect x="69" y="594" width="1" height="3"/>
<rect x="133" y="594" width="1" height="3"/>
<rect x="197" y="594" width="1" height="3"/>
<rect x="261" y="594" width="1" height="3"/>
<rect x="325" y="594" width="1" height="3"/>
<rect x="389" y="594" width="1" height="3"/>
<rect x="453" y="594" width="1" height="3"/>
<rect x="517" y="594" width="1" height="3"/>
<rect x="581" y="594" width="1" height="3"/>
<rect x="645" y="594" width="1" height="3"/>
<rect x="709" y="594" width="1" height="3"/>
<rect x="773" y="594" width="1" height="3"/>
<rect x="837" y="594" width="1" height="3"/>
<rect x="901" y="594" width="1" height="3"/>
<rect x="965" y="594" width="1" height="3"/>
<rect x="1029" y="594" width="1" height="3"/>
</g>
<g shape-rendering="crispEdges">
<line x1="6" y1="526.5" x2="1232" y2="526.5" stroke="#c0c0c0" stroke-width="1" stroke-dasharray="3 3"/>
<line x1="6" y1="576.5" x2="1232" y2="576.5" stroke="#c0c0c0" stroke-width="1" stroke-dasharray="3 3"/>
</g>
<polyline points="5.0,550.8 12.5,515.2 16.7,513.5 33.0,513.5 40.0,519.4 44.0,529.4 53.5,555.3 63.5,548.6 67.0,546.0 70.0,538.6 73.5,521.0 78.5,520.2 82.0,523.5 87.0,522.7 90.0,525.0 93.5,532.7 97.0,552.8 101.5,576.2 106.0,563.7 110.0,559.0 113.5,557.0 117.5,568.2 123.5,565.8 128.5,564.8 133.5,568.2 138.5,568.2 143.5,564.8 149.0,561.0 157.0,576.2 161.0,573.4 164.5,561.0 168.5,532.7 173.5,522.7 177.5,520.2 182.0,520.2 188.5,516.0 192.0,522.7 197.0,547.8 201.0,564.5 208.5,570.4 210.0,567.0 213.3,559.8 217.5,557.8 221.4,548.6 225.0,561.2 233.4,579.2 237.6,563.7 241.0,546.0 245.5,535.8 249.3,547.8 253.8,559.5 257.7,566.2 261.8,549.5 265.2,529.4 269.4,516.4 273.5,514.0 277.7,516.0 282.0,525.2 287.0,541.0 293.3,557.0 297.0,542.0 302.0,534.4 305.7,527.0 309.5,542.0 313.7,539.4 320.4,543.6 325.4,550.3 329.6,555.3 333.7,549.8 338.0,549.5 341.3,534.4 345.5,523.6 348.8,533.6 353.5,536.0 358.0,529.4 361.8,519.4 367.2,520.7 373.0,525.7 377.2,529.4 382.2,547.8 387.3,562.9 393.4,576.6 397.3,570.4 401.5,563.7 405.7,547.0 409.8,537.8 414.0,531.0 417.4,532.4 420.0,541.1 424.2,556.2 429.2,572.9 433.7,583.3 437.6,577.1 441.7,570.4 445.9,558.7 449.3,545.3 453.4,535.3 456.8,533.1 461.8,528.6 466.0,526.1 469.3,519.7 471.8,533.6 475.2,551.2 478.5,566.2 481.5,579.9 486.0,575.9 491.0,575.4 494.4,577.1 497.8,579.9 501.1,573.7 505.3,567.5 509.5,567.5 513.6,555.3 517.8,541.1 522.0,526.9 525.4,528.6 529.5,526.9 533.7,531.1 537.9,551.2 542.1,569.5 545.4,577.9 548.8,554.5 552.9,543.6 557.1,541.1 561.3,547.0 566.3,543.6 569.7,532.8 573.8,524.1 578.0,522.7 582.2,518.0 586.4,516.4 589.7,513.5 593.1,527.7 597.3,543.6 601.4,550.3 605.6,536.1 609.8,524.4 613.6,526.9 617.3,536.9 621.5,556.2 625.7,569.2 629.9,576.2 633.3,581.3 636.7,562.9 640.9,548.6 645.4,538.6 649.2,542.8 653.4,537.8 657.6,536.9 661.8,532.4 666.0,534.8 669.3,528.6 673.5,533.6 677.7,539.4 681.5,552.8 685.2,556.2 689.4,563.2 693.5,561.2 697.7,570.9 701.9,573.2 705.3,574.9 708.6,564.5 712.8,547.0 717.0,532.8 721.1,524.4 725.3,516.9 730.0,514.0 734.5,516.9 738.7,518.5 744.5,515.7 749.6,518.5 753.7,521.1 757.4,536.9 762.1,539.4 765.8,542.5 769.6,537.8 773.8,541.1 778.0,547.0 782.2,555.3 785.5,560.3 789.2,559.2 793.5,542.0 797.2,534.4 801.4,523.6 805.6,526.4 809.8,531.1 813.9,547.8 818.1,564.5 822.3,577.9 825.3,587.1 829.8,585.4 833.2,585.4 837.4,577.1 840.0,572.9 845.0,555.3 849.2,547.0 853.7,538.6 856.7,559.5 860.9,570.4 865.4,582.6 869.3,555.3 873.4,552.0 877.6,544.5 881.5,558.7 885.5,548.6 889.3,532.8 893.5,515.2 897.7,513.5 901.9,514.0 906.1,516.9 912.7,519.0 917.3,526.4 921.9,525.7 925.6,524.1 929.5,514.0 932.8,524.4 937.0,546.1 941.2,563.7 945.4,574.6 949.5,564.9 953.7,562.0 957.9,558.7 961.2,559.2 965.4,565.4 969.6,562.9 973.8,550.3 978.0,531.1 982.1,522.7 985.5,519.4 989.7,524.1 993.8,521.9 997.5,527.4 1002.2,524.7 1006.4,526.1 1010.6,522.7 1014.7,520.7 1021.4,520.7 1025.3,528.6 1029.0,536.9 1033.1,560.3 1037.8,572.9 1041.5,557.8 1045.9,551.2 1050.0,551.5 1053.4,554.5 1057.6,536.1 1061.4,519.0 1065.1,522.7 1069.3,526.1 1073.4,534.4 1077.6,542.5" fill="none" stroke="#4c86f0" stroke-width="1" stroke-linejoin="round" shape-rendering="crispEdges"/>
<polyline points="5.0,541.4 9.0,541.4 13.5,535.3 17.5,524.4 21.5,519.4 28.5,516.9 33.5,516.4 40.0,517.4 45.0,523.6 50.0,535.3 55.0,547.0 61.0,552.0 67.0,548.6 70.0,544.5 75.0,533.6 81.0,521.0 85.0,520.7 90.0,522.7 94.5,528.6 98.5,542.8 102.0,556.2 105.5,564.5 109.5,567.5 115.5,562.0 120.5,563.2 125.5,566.2 133.5,567.2 142.0,567.9 150.5,564.2 155.5,568.2 161.5,573.2 165.5,567.9 169.5,549.5 174.0,533.6 178.0,523.6 184.0,520.2 189.0,518.0 193.0,521.9 197.5,531.0 200.5,544.5 205.0,557.8 209.0,568.7 213.3,566.2 217.5,561.2 221.7,555.3 225.9,557.0 230.0,562.0 234.2,570.4 237.0,572.0 241.0,562.9 244.8,550.3 248.8,543.6 252.6,549.5 257.7,558.7 261.0,559.5 265.2,551.2 269.4,533.6 273.5,521.0 277.7,516.0 281.0,517.7 286.0,527.7 290.3,540.3 294.4,548.6 297.8,549.1 301.6,544.8 306.2,534.8 311.2,535.3 314.5,537.4 317.9,541.5 321.2,541.5 325.4,546.1 330.4,549.8 334.6,551.5 338.0,551.2 341.3,544.5 345.5,536.1 349.6,530.2 353.8,530.7 357.2,533.1 361.3,527.7 366.4,521.9 369.7,520.2 373.9,521.9 378.1,526.1 382.2,535.3 386.4,547.0 390.6,559.5 394.0,567.0 397.3,571.2 401.5,569.2 405.7,559.5 409.8,549.5 414.0,540.3 418.2,534.4 420.0,535.3 423.3,541.1 427.5,554.5 431.7,567.9 435.9,576.2 438.4,577.9 441.7,577.1 445.9,567.9 450.1,557.0 454.3,544.5 458.5,536.1 462.6,531.9 466.0,530.2 469.8,526.1 473.5,529.4 477.7,544.5 481.9,563.7 486.0,574.2 490.2,577.1 495.3,576.6 500.3,577.6 504.4,574.9 509.5,569.2 513.6,562.0 517.8,553.7 522.0,540.3 526.2,531.1 530.4,527.4 534.5,529.4 538.7,536.9 542.9,554.5 546.8,565.4 549.6,566.5 553.8,557.0 558.0,546.1 562.1,544.5 566.3,543.6 569.7,541.1 573.8,532.8 578.0,526.1 582.2,521.4 586.4,518.5 589.7,515.2 593.9,521.1 598.1,533.6 601.9,541.5 604.8,542.5 609.0,535.3 614.0,528.6 617.3,529.4 621.5,541.1 625.7,556.2 629.9,567.9 633.7,576.2 637.5,570.4 641.4,562.9 645.0,550.3 649.2,543.1 653.4,540.6 657.6,540.3 661.8,536.4 666.0,535.3 670.1,532.8 675.2,532.4 678.5,536.1 683.5,547.0 688.5,557.0 692.7,559.5 696.9,564.9 701.1,568.7 705.6,574.2 709.4,569.5 713.6,560.3 717.8,544.5 722.0,531.1 726.2,523.6 730.3,519.0 733.7,516.4 738.7,516.9 742.0,517.4 745.4,516.4 749.6,517.4 753.7,519.0 757.9,526.9 762.1,534.1 765.5,539.4 770.5,539.4 773.8,540.3 777.2,540.3 781.3,545.3 785.5,551.2 789.7,557.0 793.9,553.7 798.1,544.5 802.2,532.8 805.6,527.7 808.9,526.4 813.1,533.6 817.3,545.3 821.5,561.2 825.7,576.2 829.8,583.3 833.7,586.6 838.2,583.3 840.0,579.6 844.2,570.4 849.2,557.0 853.4,547.0 857.6,549.5 861.7,557.0 865.4,570.9 869.3,569.5 873.4,563.7 877.6,551.2 881.8,551.5 886.0,548.6 889.8,544.5 893.5,532.8 897.7,521.1 901.9,514.7 906.9,514.7 911.9,516.4 916.9,521.1 921.9,523.6 925.6,525.2 929.5,521.9 932.8,521.9 936.7,528.6 940.3,542.8 944.5,559.5 948.7,567.9 953.7,567.0 957.9,562.0 962.1,559.2 966.3,560.3 969.6,561.5 973.8,558.7 978.0,546.1 982.1,532.8 986.3,524.1 990.5,522.4 993.8,522.4 998.0,524.1 1002.2,524.4 1006.4,526.4 1010.6,524.7 1014.7,522.4 1018.9,521.1 1022.3,520.7 1026.5,524.1 1030.6,532.8 1034.0,544.5 1037.3,557.0 1041.2,564.5 1045.0,559.2 1049.2,553.7 1053.4,552.0 1057.6,545.3 1061.7,534.4 1065.9,525.7 1069.3,522.4 1073.4,526.9 1076.8,533.6" fill="none" stroke="#ff0000" stroke-width="1" stroke-linejoin="round" shape-rendering="crispEdges"/>
<polygon points="1078.5,5 1088.5,5 1083.5,10" fill="#c0c0c0"/>
<polygon points="8,11 15,11 11.5,15" fill="#000"/>
<text x="19.8" y="16.0" textLength="54.0" lengthAdjust="spacingAndGlyphs" class="t">XAUUSD,H4</text>
<text x="80.1" y="16.0" textLength="33.0" lengthAdjust="spacingAndGlyphs" class="t">4630.39</text>
<text x="116.0" y="16.0" textLength="33.0" lengthAdjust="spacingAndGlyphs" class="t">4633.30</text>
<text x="151.9" y="16.0" textLength="33.0" lengthAdjust="spacingAndGlyphs" class="t">4583.24</text>
<text x="187.8" y="16.0" textLength="33.0" lengthAdjust="spacingAndGlyphs" class="t">4602.42</text>
<text x="9.1" y="521.0" textLength="40.0" lengthAdjust="spacingAndGlyphs" class="t">Sto(5,3,3)</text>
<text x="52.8" y="521.0" textLength="33.0" lengthAdjust="spacingAndGlyphs" class="t">59.5159</text>
<text x="88.8" y="521.0" textLength="33.0" lengthAdjust="spacingAndGlyphs" class="t">70.6992</text>
<text x="1238.0" y="11.9" textLength="33.0" lengthAdjust="spacingAndGlyphs" class="t">4756.10</text>
<text x="1238.0" y="77.9" textLength="33.0" lengthAdjust="spacingAndGlyphs" class="t">4642.20</text>
<text x="1238.0" y="110.9" textLength="33.0" lengthAdjust="spacingAndGlyphs" class="t">4584.40</text>
<text x="1238.0" y="143.9" textLength="33.0" lengthAdjust="spacingAndGlyphs" class="t">4526.60</text>
<text x="1238.0" y="176.9" textLength="33.0" lengthAdjust="spacingAndGlyphs" class="t">4470.50</text>
<text x="1238.0" y="209.9" textLength="33.0" lengthAdjust="spacingAndGlyphs" class="t">4412.70</text>
<text x="1238.0" y="242.9" textLength="33.0" lengthAdjust="spacingAndGlyphs" class="t">4354.90</text>
<text x="1238.0" y="275.9" textLength="33.0" lengthAdjust="spacingAndGlyphs" class="t">4298.80</text>
<text x="1238.0" y="308.9" textLength="33.0" lengthAdjust="spacingAndGlyphs" class="t">4241.00</text>
<text x="1238.0" y="341.9" textLength="33.0" lengthAdjust="spacingAndGlyphs" class="t">4183.20</text>
<text x="1238.0" y="374.9" textLength="33.0" lengthAdjust="spacingAndGlyphs" class="t">4125.40</text>
<text x="1238.0" y="407.9" textLength="33.0" lengthAdjust="spacingAndGlyphs" class="t">4069.30</text>
<text x="1238.0" y="440.9" textLength="33.0" lengthAdjust="spacingAndGlyphs" class="t">4011.50</text>
<text x="1238.0" y="473.9" textLength="33.0" lengthAdjust="spacingAndGlyphs" class="t">3953.70</text>
<text x="1238.0" y="506.9" textLength="33.0" lengthAdjust="spacingAndGlyphs" class="t">3897.60</text>
<text x="1236.5" y="519.0" textLength="15.2" lengthAdjust="spacingAndGlyphs" class="t">100</text>
<text x="1236.5" y="530.0" textLength="10.1" lengthAdjust="spacingAndGlyphs" class="t">80</text>
<text x="1236.5" y="580.0" textLength="10.1" lengthAdjust="spacingAndGlyphs" class="t">20</text>
<text x="1236.5" y="590.0" textLength="5.1" lengthAdjust="spacingAndGlyphs" class="t">0</text>
<g shape-rendering="crispEdges">
<rect x="1234" y="34" width="41" height="11" fill="#dc143c"/>
<rect x="1234" y="92" width="41" height="11" fill="#000"/>
<rect x="1234" y="122" width="41" height="11" fill="#3cb371"/>
<rect x="1234" y="178" width="41" height="11" fill="#3cb371"/>
</g>
<text x="1238.0" y="43.0" textLength="33.0" lengthAdjust="spacingAndGlyphs" class="tw">4700.62</text>
<text x="1238.0" y="101.0" textLength="33.0" lengthAdjust="spacingAndGlyphs" class="tw">4602.42</text>
<text x="1238.0" y="131.0" textLength="33.0" lengthAdjust="spacingAndGlyphs" class="tw">4549.09</text>
<text x="1238.0" y="187.0" textLength="33.0" lengthAdjust="spacingAndGlyphs" class="tw">4451.09</text>
<text x="4.6" y="606.0" textLength="48.6" lengthAdjust="spacingAndGlyphs" class="t">7 Nov 2025</text>
<text x="68.6" y="606.0" textLength="56.3" lengthAdjust="spacingAndGlyphs" class="t">12 Nov 12:00</text>
<text x="132.6" y="606.0" textLength="56.2" lengthAdjust="spacingAndGlyphs" class="t">17 Nov 04:00</text>
<text x="196.6" y="606.0" textLength="55.8" lengthAdjust="spacingAndGlyphs" class="t">19 Nov 20:00</text>
<text x="260.6" y="606.0" textLength="56.4" lengthAdjust="spacingAndGlyphs" class="t">24 Nov 12:00</text>
<text x="324.6" y="606.0" textLength="56.5" lengthAdjust="spacingAndGlyphs" class="t">27 Nov 04:00</text>
<text x="388.6" y="606.0" textLength="50.3" lengthAdjust="spacingAndGlyphs" class="t">2 Dec 04:00</text>
<text x="452.6" y="606.0" textLength="49.9" lengthAdjust="spacingAndGlyphs" class="t">4 Dec 20:00</text>
<text x="516.6" y="606.0" textLength="49.3" lengthAdjust="spacingAndGlyphs" class="t">9 Dec 12:00</text>
<text x="580.6" y="606.0" textLength="54.5" lengthAdjust="spacingAndGlyphs" class="t">12 Dec 04:00</text>
<text x="644.6" y="606.0" textLength="54.5" lengthAdjust="spacingAndGlyphs" class="t">16 Dec 20:00</text>
<text x="708.6" y="606.0" textLength="53.8" lengthAdjust="spacingAndGlyphs" class="t">19 Dec 12:00</text>
<text x="772.6" y="606.0" textLength="53.8" lengthAdjust="spacingAndGlyphs" class="t">24 Dec 04:00</text>
<text x="836.6" y="606.0" textLength="54.6" lengthAdjust="spacingAndGlyphs" class="t">30 Dec 00:00</text>
<text x="900.6" y="606.0" textLength="47.8" lengthAdjust="spacingAndGlyphs" class="t">5 Jan 16:00</text>
<text x="964.6" y="606.0" textLength="47.1" lengthAdjust="spacingAndGlyphs" class="t">8 Jan 08:00</text>
<text x="1028.6" y="606.0" textLength="51.0" lengthAdjust="spacingAndGlyphs" class="t">13 Jan 00:00</text>
</svg>
</body></html>
